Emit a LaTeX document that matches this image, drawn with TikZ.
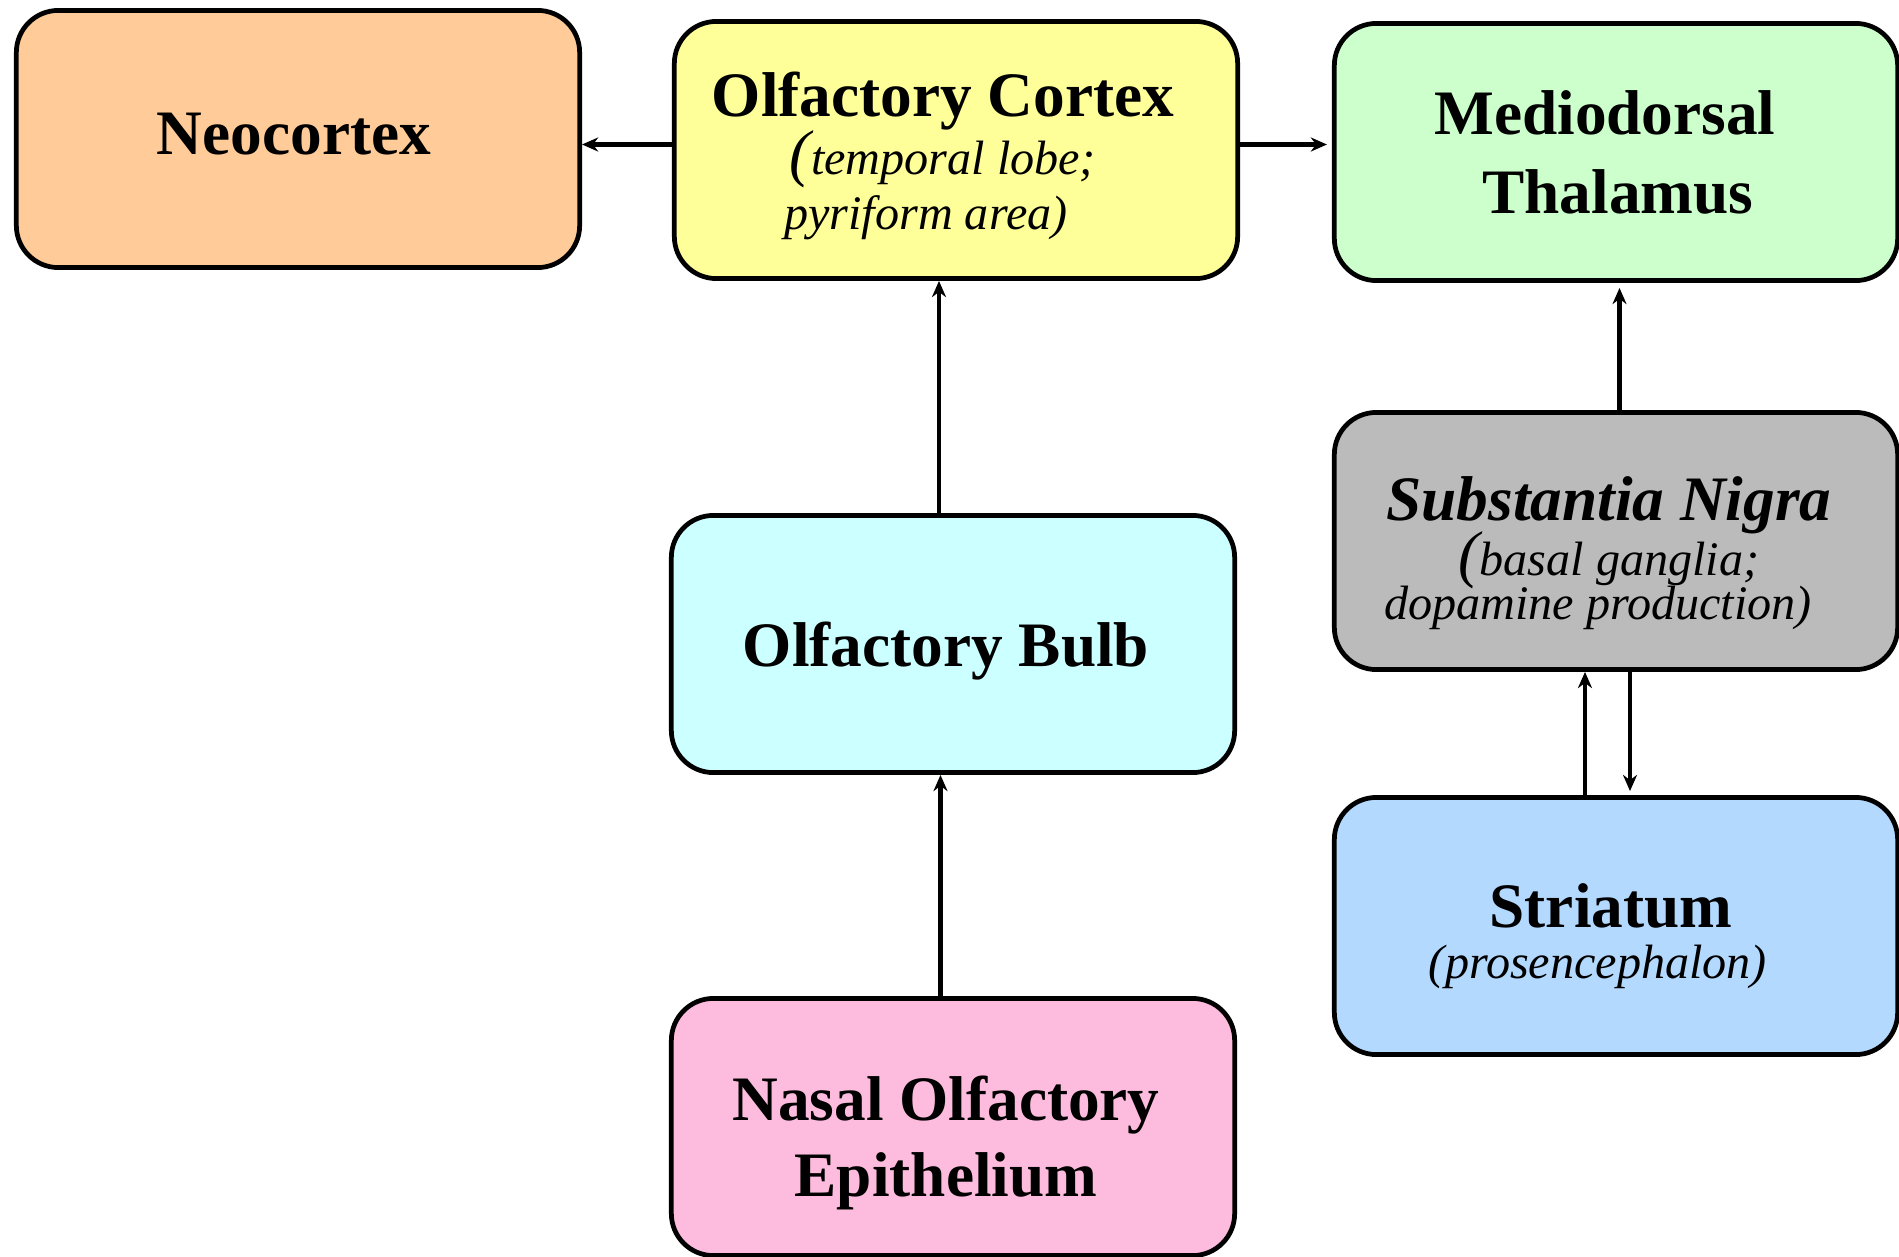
\documentclass[tikz,border=0pt]{standalone}
\usepackage{fontspec}
\setmainfont{Liberation Serif}[ItalicFont={Liberation Serif Italic},
  BoldFont={Liberation Serif Bold}, BoldItalicFont={Liberation Serif Bold Italic}]
\usetikzlibrary{arrows.meta}
\definecolor{neocol}{HTML}{FFCC99}
\definecolor{cortexcol}{HTML}{FFFF99}
\definecolor{thalcol}{HTML}{CCFFCC}
\definecolor{nigracol}{HTML}{BBBBBB}
\definecolor{stricol}{HTML}{B3D9FF}
\definecolor{bulbcol}{HTML}{CCFFFF}
\definecolor{nasalcol}{HTML}{FDBBDD}
\newcommand{\notesize}{\fontsize{13.7}{15.5}\selectfont\lineskiplimit=-30pt\relax}
\newcommand{\ttl}[1]{{\fontsize{18}{22}\selectfont\bfseries #1}}
\newcommand{\bigparen}{{\fontsize{18}{18}\selectfont(}}
\tikzset{
  region/.style={draw, line width=1.35pt, rounded corners=0.42cm,
    minimum width=5.63cm, minimum height=2.57cm, inner sep=0pt},
  txt/.style={align=center, font=\notesize, inner sep=0pt},
  link/.style={->, line width=1.3pt}
}

\begin{document}
\begin{tikzpicture}[x=0.01cm, y=-0.01cm, line cap=round, line join=round,
  >={Stealth[length=4.6pt,width=4pt]}]
  \useasboundingbox (0,0) rectangle (1899,1257);
  % left and middle column
  \node[region, fill=neocol,
    label={[txt, xshift=-0.04cm, yshift=0.05cm]center:{\ttl{Neocortex}}}]
    (neo) at (298,139) {};
  \node[region, fill=cortexcol,
    label={[txt, xshift=-0.13cm, yshift=-0.06cm]center:{\ttl{Olfactory Cortex}\\[1pt]
      \itshape\bigparen temporal lobe;\hspace*{0.34cm}\\
      \itshape pyriform area)\hspace*{0.34cm}}}]
    (cortex) at (956,150) {};
  \node[region, fill=bulbcol,
    label={[txt, xshift=-0.07cm, yshift=-0.07cm]center:{\ttl{Olfactory Bulb}}}]
    (bulb) at (953,644) {};
  \node[region, fill=nasalcol,
    label={[txt, xshift=-0.07cm, yshift=-0.16cm]center:{\ttl{Nasal Olfactory}\\[6pt]
      \ttl{Epithelium}}}]
    (nasal) at (953,1127) {};
  % right column
  \node[region, fill=thalcol,
    label={[txt, xshift=0.02cm]center:{\ttl{Mediodorsal}\hspace*{0.26cm}\\[7pt]
      \ttl{Thalamus}}}]
    (thal) at (1616,152) {};
  \node[region, fill=nigracol,
    label={[txt, xshift=-0.07cm, yshift=-0.12cm]center:{\ttl{\itshape Substantia Nigra}\\[0pt]
      \itshape\bigparen basal ganglia;\hspace*{0.22cm}\\[-3pt]
      \itshape dopamine production)\hspace*{0.22cm}}}]
    (nigra) at (1616,541) {};
  \node[region, fill=stricol,
    label={[txt, xshift=-0.05cm, yshift=-0.10cm]center:{\ttl{Striatum}\\[-1pt]
      \itshape (prosencephalon)\hspace*{0.26cm}}}]
    (stri) at (1616,926) {};

  \draw[link] ([yshift=0.055cm]cortex.west) coordinate (cw) -- (cw -| neo.east);
  \draw[link, shorten >=0.05cm] ([yshift=0.055cm]cortex.east) coordinate (ce) -- (ce -| thal.west);
  \draw[link] ([xshift=-0.14cm]bulb.north) coordinate (bn) -- (bn |- cortex.south);
  \draw[link] ([xshift=-0.125cm]nasal.north) coordinate (nn) -- (nn |- bulb.south);
  \draw[link, shorten >=0.05cm] ([xshift=0.035cm]nigra.north) coordinate (gn) -- (gn |- thal.south);
  \draw[link] ([xshift=-0.31cm]stri.north) coordinate (sn) -- (sn |- nigra.south);
  \draw[link, shorten >=0.04cm] ([xshift=0.14cm]nigra.south) coordinate (gs) -- (gs |- stri.north);
\end{tikzpicture}
\end{document}
